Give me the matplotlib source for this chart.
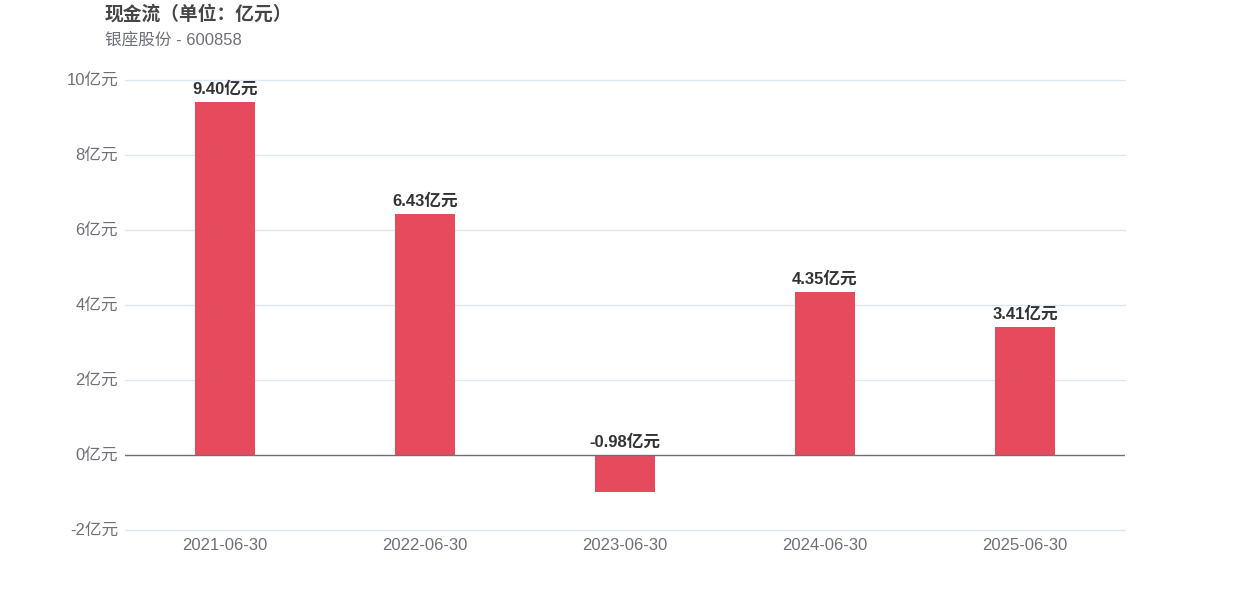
import matplotlib
matplotlib.use('Agg')
import matplotlib.pyplot as plt

plt.rcParams['font.family'] = ['Liberation Sans', 'Noto Sans CJK SC', 'DejaVu Sans']

TITLE = '现金流（单位：亿元）'
SUBTITLE = '银座股份 - 600858'
dates = ['2021-06-30', '2022-06-30', '2023-06-30', '2024-06-30', '2025-06-30']
values = [9.40, 6.43, -0.98, 4.35, 3.41]
y_ticks = [-2, 0, 2, 4, 6, 8, 10]

BAR_COLOR = '#e64b5d'

fig = plt.figure(figsize=(12.5, 6), dpi=100)
ax = fig.add_axes([0.1, 0.1167, 0.8, 0.75])

x = list(range(len(dates)))
ax.bar(x, values, width=0.3, color=BAR_COLOR, zorder=3)
for xi, v in zip(x, values):
    ax.annotate(f'{v:.2f}亿元', (xi, max(v, 0)), xytext=(0, 4),
                textcoords='offset points', ha='center', va='bottom',
                fontsize=12, fontweight='bold', color='#333333', zorder=4)

ax.set_xlim(-0.5, len(dates) - 0.5)
ax.set_ylim(-2, 10)
ax.set_yticks(y_ticks)
ax.set_yticklabels([f'{t}亿元' for t in y_ticks])
ax.set_xticks(x)
ax.set_xticklabels(dates)
ax.tick_params(axis='both', length=0, labelsize=12, labelcolor='#6e7079')
ax.tick_params(axis='y', pad=5)
ax.tick_params(axis='x', pad=6)
for t in y_ticks:
    if t != 0:
        ax.axhline(t, color='#e0e6f1', lw=1, zorder=0, clip_on=False)
ax.axhline(0, color='#6e7079', lw=1, zorder=5)
for s in ax.spines.values():
    s.set_visible(False)

fig.text(0.084, 0.977, TITLE, fontsize=13.5, fontweight='bold', color='#464646',
         ha='left', va='center')
fig.text(0.084, 0.933, SUBTITLE, fontsize=12, color='#6e7079', ha='left', va='center')

fig.savefig('out.png', dpi=100)
